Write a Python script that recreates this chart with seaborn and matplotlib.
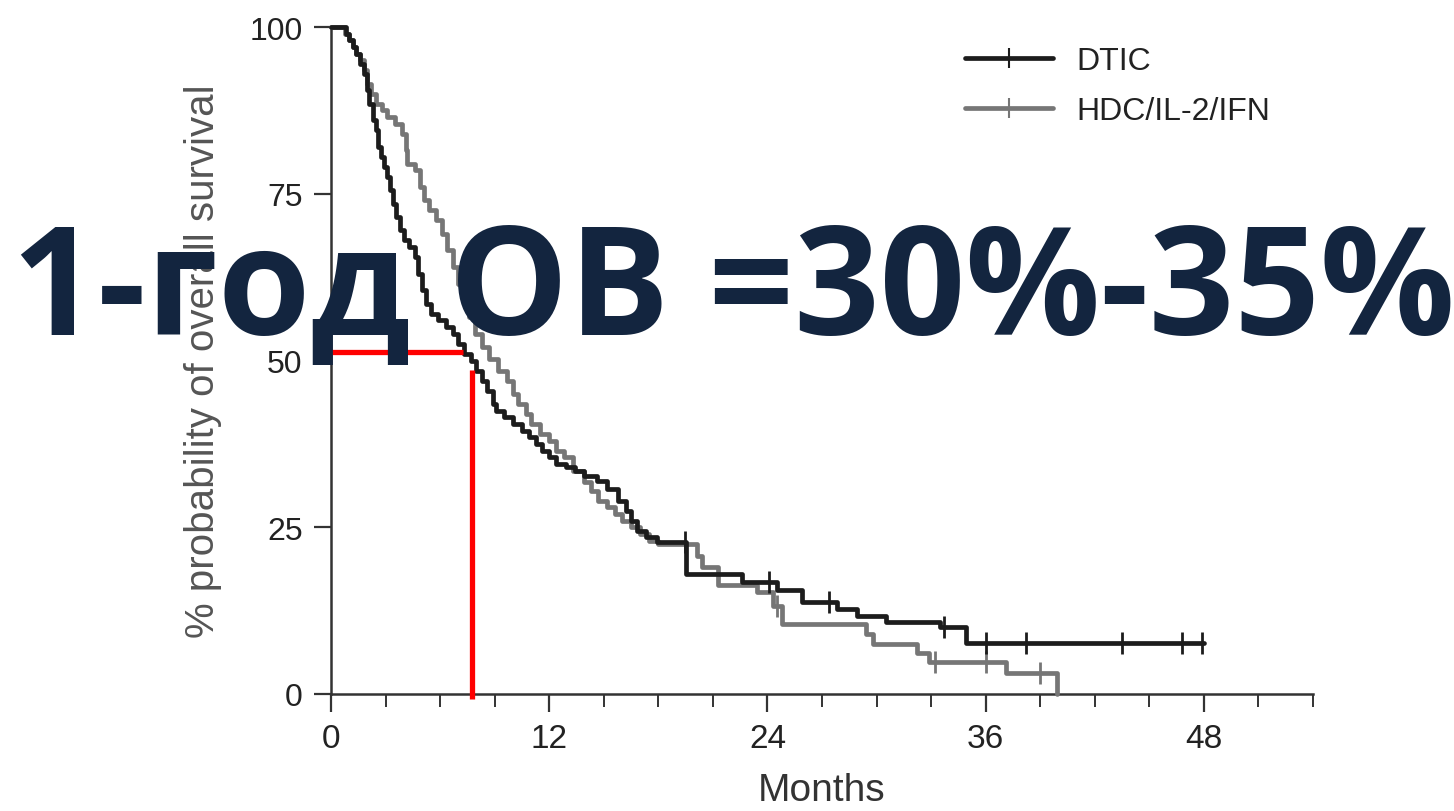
import numpy as np
import pandas as pd
import matplotlib
matplotlib.use("Agg")
import matplotlib.pyplot as plt
from matplotlib.lines import Line2D
from matplotlib import font_manager
import seaborn as sns

# ---------------- data ----------------
dtic_t = [0, 0.8, 1.0, 1.2, 1.4, 1.6, 1.8, 2.0, 2.1, 2.3, 2.45, 2.6, 2.75, 2.9, 3.1, 3.25, 3.4, 3.6, 3.8, 4.0,
          4.3, 4.6, 4.8, 5.0, 5.2, 5.5, 5.9, 6.3, 6.7, 7.0, 7.3, 7.7, 8.0, 8.3, 8.6, 8.9, 9.1, 9.5, 10.0, 10.5,
          10.9, 11.3, 11.6, 12.0, 12.4, 12.9, 13.4, 13.9, 14.6, 15.2, 15.8, 16.2, 16.5, 16.8, 17.3, 17.9, 19.5,
          22.6, 24.5, 25.9, 27.8, 28.9, 30.5, 33.5, 34.9, 48.0]
dtic_s = [100, 99, 98, 97, 96, 94.5, 93, 90.5, 88.5, 86, 84.5, 82, 80.5, 79, 77.5, 75.5, 73.5, 71.5, 69.5, 68,
          67, 65.5, 63, 60.5, 58.5, 57, 56, 55, 54, 52.5, 51, 50, 48.5, 47, 45.5, 43.5, 42.5, 41.5, 40.5, 39.5,
          38.5, 37.5, 36.5, 35.5, 34.5, 34, 33.5, 32.7, 32, 30.7, 29, 27.5, 26, 24.5, 23.5, 22.8, 18.0,
          16.8, 15.6, 13.8, 12.7, 11.7, 10.8, 10.0, 7.7, 7.7]

hdc_t = [0, 0.75, 1.0, 1.2, 1.4, 1.6, 1.8, 2.0, 2.2, 2.5, 2.8, 3.1, 3.5, 3.9, 4.1, 4.2, 4.6, 4.9, 5.1, 5.4,
         5.8, 6.1, 6.4, 6.7, 7.0, 7.3, 7.6, 7.9, 8.3, 8.7, 9.2, 9.7, 10.0, 10.3, 10.7, 11.0, 11.5, 12.0, 12.4,
         12.8, 13.3, 13.9, 14.3, 14.7, 15.2, 15.6, 16.0, 16.5, 17.0, 17.5, 18.0, 20.1, 20.4, 21.3, 23.4, 24.3,
         24.8, 29.4, 29.8, 32.2, 32.9, 37.1, 39.9]
hdc_s = [100, 99, 98, 97, 96, 95, 93.5, 91.5, 90, 88.5, 87.5, 86.5, 85.5, 84, 81.5, 79.5, 78.5, 76, 74, 72.5,
         71, 69, 66.5, 64, 61.5, 59, 56.5, 54, 52, 50.2, 48.5, 47, 45, 43.5, 42, 40.5, 39, 38, 36.5,
         35.5, 33.5, 31.8, 30.5, 29, 28, 27, 26, 25, 24, 23, 22.5, 20.7, 19.0, 16.3, 15.3, 13.2,
         10.5, 9.0, 7.5, 6.1, 4.8, 3.1, 0]

dtic_cens_t = [19.45, 24.1, 27.4, 33.7, 36.0, 38.2, 43.5, 46.8, 47.9]
dtic_cens_s = [22.8, 16.8, 13.8, 10.0, 7.7, 7.7, 7.7, 7.7, 7.7]
hdc_cens_t = [24.5, 33.2, 36.0, 39.0]
hdc_cens_s = [13.2, 4.8, 4.8, 3.1]

series_names = ["DTIC", "HDC/IL-2/IFN"]
x_ticks = [0, 12, 24, 36, 48]
y_ticks = [0, 25, 50, 75, 100]
median_month = 7.75
median_pct = 51.2
overlay_text = "1-год ОВ =30%-35%"
x_label = "Months"
y_label = "% probability of overall survival"

# ---------------- style ----------------
sns.set_style("ticks")
names = {f.name for f in font_manager.fontManager.ttflist}
base_font = "Liberation Sans" if "Liberation Sans" in names else "DejaVu Sans"
plt.rcParams["font.family"] = [base_font, "DejaVu Sans"]

black = "#1c1c1c"
grey = "#767676"
axis_col = "#333333"

fig = plt.figure(figsize=(14.54, 8.12), dpi=100)
fig.patch.set_facecolor("white")
ax = fig.add_axes([331 / 1454, 1 - 695 / 812, (1313 - 331) / 1454, (695 - 28) / 812])
ax.set_facecolor("white")

df_d = pd.DataFrame({"t": dtic_t, "s": dtic_s})
df_h = pd.DataFrame({"t": hdc_t, "s": hdc_s})

sns.lineplot(data=df_h, x="t", y="s", drawstyle="steps-post", estimator=None, sort=False,
             color=grey, linewidth=3.4, ax=ax, zorder=3, clip_on=False)
sns.lineplot(data=df_d, x="t", y="s", drawstyle="steps-post", estimator=None, sort=False,
             color=black, linewidth=3.4, ax=ax, zorder=4, clip_on=False)

sns.scatterplot(x=hdc_cens_t, y=hdc_cens_s, marker="|", s=260, linewidth=2.0, color=grey,
                ax=ax, zorder=3, clip_on=False)
sns.scatterplot(x=dtic_cens_t, y=dtic_cens_s, marker="|", s=260, linewidth=2.0, color=black,
                ax=ax, zorder=4, clip_on=False)

# median annotation lines (red)
ax.hlines(median_pct, -0.5, median_month - 0.5, color="#ff0000", linewidth=3.8, clip_on=False, zorder=5)
ax.vlines(median_month, -0.8, median_pct - 2.6, color="#ff0000", linewidth=3.8, clip_on=False, zorder=5)

ax.set_xlim(0, 54)
ax.set_ylim(0, 100)
ax.set_xticks(x_ticks)
ax.set_xticks(np.arange(0, 55, 3), minor=True)
ax.set_yticks(y_ticks)
ax.set_xticklabels([str(v) for v in x_ticks], fontsize=24, color="#222222")
ax.set_yticklabels([str(v) for v in y_ticks], fontsize=23, color="#222222")
ax.tick_params(axis="x", which="major", direction="out", length=13, width=1.6, color=axis_col,
               pad=8, bottom=True)
ax.tick_params(axis="x", which="minor", direction="out", length=9, width=1.4, color=axis_col, bottom=True)
ax.tick_params(axis="y", which="major", direction="out", length=12.5, width=1.6, color=axis_col,
               pad=8, left=True)
ax.tick_params(axis="y", which="minor", left=False)

for side in ["top", "right"]:
    ax.spines[side].set_visible(False)
for side in ["left", "bottom"]:
    ax.spines[side].set_linewidth(1.8)
    ax.spines[side].set_color(axis_col)

ax.set_xlabel(x_label, fontsize=28, color="#333333", labelpad=13)
ax.set_ylabel(y_label, fontsize=29, color="#555555", labelpad=20)

handles = [Line2D([], [], color=black, linewidth=3.4, marker="|", markersize=14, markeredgewidth=1.5),
           Line2D([], [], color=grey, linewidth=3.4, marker="|", markersize=14, markeredgewidth=1.5)]
leg = ax.legend(handles, series_names, loc="upper left", bbox_to_anchor=(965 / 1454, 1 - 47 / 812),
                bbox_transform=fig.transFigure, frameon=False, fontsize=23, handlelength=2.75,
                handletextpad=0.75, labelspacing=0.62, borderpad=0, borderaxespad=0, numpoints=1)
for txt in leg.get_texts():
    txt.set_color("#222222")

fig.text(734 / 1454, 1 - 335 / 812, overlay_text, ha="center", va="baseline", fontsize=108,
         fontweight="bold", color="#13253f", family=["Open Sans", "DejaVu Sans"], zorder=10)

fig.savefig("out.png", dpi=100, facecolor="white")
